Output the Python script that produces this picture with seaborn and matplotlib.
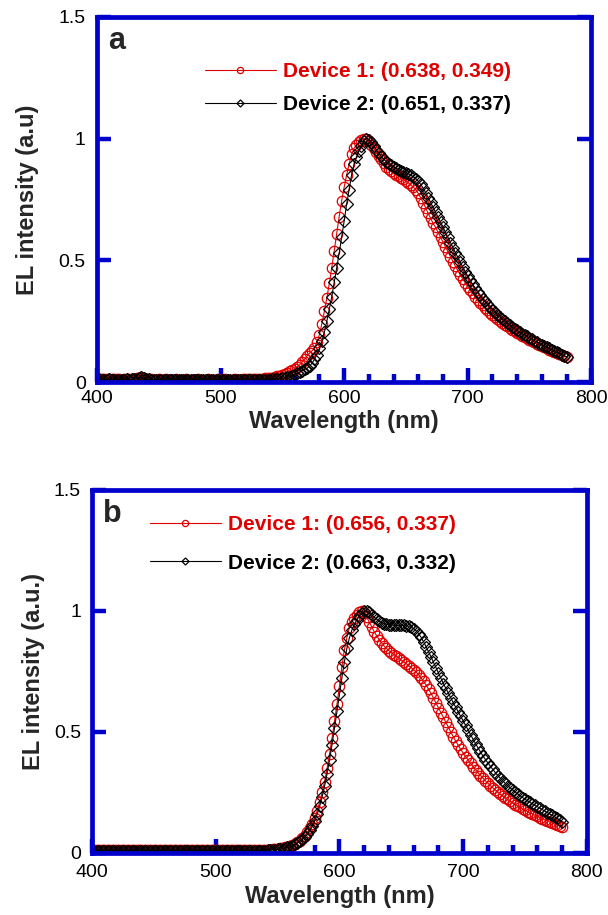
import numpy as np
import pandas as pd
import matplotlib
matplotlib.use("Agg")
import matplotlib.pyplot as plt
import seaborn as sns
from matplotlib.ticker import MultipleLocator, FixedLocator

# ---------------- data ----------------
wavelength = list(range(400, 782, 2))  # nm

a_dev1 = [
    0.012, 0.013, 0.012, 0.011, 0.012, 0.013, 0.012, 0.011, 0.012, 0.011,
    0.010, 0.011, 0.012, 0.011, 0.012, 0.013, 0.015, 0.018, 0.020, 0.017,
    0.014, 0.012, 0.011, 0.010, 0.010, 0.011, 0.010, 0.010, 0.011, 0.010,
    0.010, 0.010, 0.011, 0.010, 0.010, 0.010, 0.011, 0.010, 0.010, 0.010,
    0.010, 0.011, 0.010, 0.010, 0.010, 0.011, 0.010, 0.010, 0.010, 0.011,
    0.010, 0.010, 0.011, 0.010, 0.010, 0.010, 0.011, 0.010, 0.010, 0.011,
    0.011, 0.011, 0.012, 0.012, 0.012, 0.013, 0.013, 0.014, 0.015, 0.016,
    0.016, 0.018, 0.020, 0.023, 0.026, 0.030, 0.034, 0.039, 0.044, 0.049,
    0.055, 0.062, 0.071, 0.082, 0.094, 0.107, 0.118, 0.128, 0.140, 0.165,
    0.195, 0.240, 0.290, 0.345, 0.405, 0.470, 0.540, 0.610, 0.680, 0.745,
    0.800, 0.850, 0.895, 0.935, 0.960, 0.975, 0.985, 0.995, 1.000, 0.998,
    0.990, 0.975, 0.960, 0.945, 0.930, 0.915, 0.900, 0.885, 0.875, 0.865,
    0.858, 0.852, 0.845, 0.840, 0.833, 0.825, 0.818, 0.810, 0.800, 0.790,
    0.775, 0.757, 0.737, 0.715, 0.693, 0.672, 0.652, 0.635, 0.615, 0.595,
    0.575, 0.555, 0.535, 0.515, 0.495, 0.476, 0.457, 0.440, 0.423, 0.407,
    0.392, 0.378, 0.364, 0.351, 0.338, 0.326, 0.315, 0.305, 0.295, 0.285,
    0.276, 0.267, 0.259, 0.251, 0.243, 0.236, 0.229, 0.222, 0.215, 0.209,
    0.203, 0.197, 0.191, 0.185, 0.179, 0.174, 0.168, 0.163, 0.158, 0.153,
    0.148, 0.143, 0.138, 0.133, 0.128, 0.124, 0.119, 0.115, 0.111, 0.107,
    0.103,
]

a_dev2 = [
    0.010, 0.011, 0.010, 0.009, 0.010, 0.011, 0.010, 0.009, 0.010, 0.010,
    0.009, 0.010, 0.011, 0.010, 0.011, 0.012, 0.014, 0.017, 0.019, 0.016,
    0.013, 0.011, 0.010, 0.009, 0.009, 0.010, 0.009, 0.009, 0.010, 0.009,
    0.009, 0.009, 0.010, 0.009, 0.009, 0.009, 0.010, 0.009, 0.009, 0.009,
    0.009, 0.010, 0.009, 0.009, 0.009, 0.010, 0.009, 0.009, 0.009, 0.010,
    0.009, 0.009, 0.010, 0.009, 0.009, 0.009, 0.010, 0.009, 0.009, 0.010,
    0.009, 0.009, 0.010, 0.009, 0.009, 0.010, 0.009, 0.009, 0.010, 0.010,
    0.010, 0.011, 0.012, 0.013, 0.014, 0.015, 0.017, 0.019, 0.022, 0.026,
    0.030, 0.035, 0.041, 0.047, 0.052, 0.056, 0.065, 0.077, 0.093, 0.113,
    0.138, 0.168, 0.205, 0.250, 0.300, 0.350, 0.410, 0.470, 0.530, 0.595,
    0.660, 0.730, 0.790, 0.850, 0.895, 0.925, 0.950, 0.970, 0.990, 1.000,
    0.995, 0.985, 0.970, 0.955, 0.940, 0.928, 0.916, 0.906, 0.897, 0.890,
    0.884, 0.878, 0.873, 0.868, 0.864, 0.860, 0.855, 0.850, 0.843, 0.835,
    0.825, 0.812, 0.796, 0.778, 0.758, 0.738, 0.718, 0.698, 0.678, 0.657,
    0.636, 0.615, 0.594, 0.573, 0.552, 0.532, 0.512, 0.492, 0.473, 0.454,
    0.436, 0.418, 0.401, 0.385, 0.370, 0.356, 0.343, 0.331, 0.319, 0.308,
    0.297, 0.287, 0.277, 0.268, 0.259, 0.250, 0.242, 0.234, 0.226, 0.219,
    0.212, 0.205, 0.199, 0.193, 0.187, 0.182, 0.176, 0.170, 0.164, 0.158,
    0.153, 0.148, 0.143, 0.138, 0.133, 0.128, 0.123, 0.118, 0.113, 0.108,
    0.104,
]

b_dev1 = [
    0.011, 0.012, 0.011, 0.011, 0.012, 0.011, 0.011, 0.012, 0.011, 0.011,
    0.011, 0.012, 0.011, 0.011, 0.012, 0.011, 0.012, 0.012, 0.011, 0.011,
    0.012, 0.011, 0.011, 0.012, 0.011, 0.011, 0.012, 0.011, 0.011, 0.012,
    0.011, 0.011, 0.012, 0.011, 0.011, 0.012, 0.011, 0.011, 0.012, 0.011,
    0.011, 0.012, 0.011, 0.011, 0.012, 0.011, 0.011, 0.012, 0.011, 0.011,
    0.012, 0.011, 0.011, 0.012, 0.011, 0.011, 0.012, 0.011, 0.011, 0.012,
    0.011, 0.011, 0.012, 0.011, 0.012, 0.012, 0.011, 0.012, 0.012, 0.012,
    0.012, 0.013, 0.014, 0.015, 0.016, 0.017, 0.019, 0.021, 0.023, 0.026,
    0.029, 0.033, 0.038, 0.044, 0.051, 0.060, 0.071, 0.085, 0.102, 0.120,
    0.145, 0.175, 0.210, 0.250, 0.295, 0.350, 0.410, 0.475, 0.545, 0.615,
    0.690, 0.770, 0.840, 0.890, 0.930, 0.955, 0.972, 0.985, 0.995, 1.000,
    0.990, 0.975, 0.955, 0.935, 0.915, 0.898, 0.882, 0.868, 0.856, 0.845,
    0.836, 0.828, 0.820, 0.812, 0.804, 0.797, 0.790, 0.782, 0.774, 0.766,
    0.757, 0.747, 0.736, 0.723, 0.709, 0.694, 0.677, 0.659, 0.640, 0.620,
    0.600, 0.580, 0.560, 0.540, 0.520, 0.500, 0.480, 0.462, 0.445, 0.428,
    0.413, 0.398, 0.384, 0.370, 0.357, 0.344, 0.332, 0.320, 0.309, 0.298,
    0.288, 0.278, 0.269, 0.260, 0.251, 0.243, 0.235, 0.228, 0.221, 0.214,
    0.207, 0.200, 0.194, 0.188, 0.182, 0.176, 0.171, 0.166, 0.161, 0.156,
    0.151, 0.146, 0.142, 0.137, 0.133, 0.128, 0.124, 0.119, 0.115, 0.111,
    0.107,
]

b_dev2 = [
    0.009, 0.010, 0.009, 0.009, 0.010, 0.009, 0.009, 0.010, 0.009, 0.009,
    0.009, 0.010, 0.009, 0.009, 0.010, 0.009, 0.010, 0.010, 0.009, 0.009,
    0.010, 0.009, 0.009, 0.010, 0.009, 0.009, 0.010, 0.009, 0.009, 0.010,
    0.009, 0.009, 0.010, 0.009, 0.009, 0.010, 0.009, 0.009, 0.010, 0.009,
    0.009, 0.010, 0.009, 0.009, 0.010, 0.009, 0.009, 0.010, 0.009, 0.009,
    0.010, 0.009, 0.009, 0.010, 0.009, 0.009, 0.010, 0.009, 0.009, 0.010,
    0.009, 0.009, 0.010, 0.009, 0.010, 0.010, 0.009, 0.010, 0.010, 0.010,
    0.010, 0.011, 0.012, 0.013, 0.014, 0.015, 0.016, 0.018, 0.020, 0.023,
    0.026, 0.030, 0.035, 0.041, 0.048, 0.056, 0.066, 0.078, 0.093, 0.110,
    0.132, 0.160, 0.193, 0.232, 0.277, 0.328, 0.385, 0.448, 0.515, 0.585,
    0.655, 0.725, 0.790, 0.845, 0.888, 0.920, 0.945, 0.963, 0.978, 0.990,
    0.998, 1.000, 0.995, 0.985, 0.975, 0.966, 0.958, 0.952, 0.948, 0.945,
    0.943, 0.942, 0.941, 0.941, 0.941, 0.941, 0.940, 0.939, 0.937, 0.933,
    0.927, 0.918, 0.906, 0.891, 0.873, 0.853, 0.832, 0.810, 0.788, 0.766,
    0.744, 0.722, 0.700, 0.680, 0.660, 0.640, 0.621, 0.602, 0.583, 0.564,
    0.546, 0.527, 0.508, 0.489, 0.470, 0.452, 0.434, 0.417, 0.401, 0.386,
    0.372, 0.358, 0.345, 0.332, 0.320, 0.309, 0.298, 0.288, 0.278, 0.269,
    0.260, 0.252, 0.244, 0.236, 0.229, 0.222, 0.215, 0.209, 0.203, 0.197,
    0.191, 0.185, 0.179, 0.173, 0.167, 0.161, 0.155, 0.149, 0.143, 0.136,
    0.128,
]

labels_a = ["Device 1: (0.638, 0.349)", "Device 2: (0.651, 0.337)"]
labels_b = ["Device 1: (0.656, 0.337)", "Device 2: (0.663, 0.332)"]
ylabels = ["EL intensity (a.u)", "EL intensity (a.u.)"]
panel_letters = ["a", "b"]
xticks = [400, 500, 600, 700, 800]
yticks = [0, 0.5, 1, 1.5]
ytick_labels = ["0", "0.5", "1", "1.5"]

# ---------------- style ----------------
sns.set_style("white")
plt.rcParams["font.family"] = ["Liberation Sans", "DejaVu Sans"]

BLUE = "#0000CC"
RED = "#E00000"

fig = plt.figure(figsize=(6.08, 9.15), dpi=100)
ax_a = fig.add_axes([0.1595, 0.5825, 0.813, 0.399])
ax_b = fig.add_axes([0.1513, 0.0678, 0.814, 0.3967])

# (axes, series1, series2, legend labels, legend anchor, labelspacing,
#  x tick pad, y label pad, x label pad)
panels = [
    (ax_a, a_dev1, a_dev2, labels_a, (0.218, 0.877), 0.68, 6, 14, 2),
    (ax_b, b_dev1, b_dev2, labels_b, (0.117, 0.93), 0.92, 8, 6, 3),
]

for i, (ax, d1, d2, labs, legpos, lspace, xpad, ylpad, xlpad) in enumerate(panels):
    df = pd.DataFrame({"wl": wavelength, "d1": d1, "d2": d2})
    sns.lineplot(data=df, x="wl", y="d1", ax=ax, color=RED, linewidth=0.8,
                 marker="o", markersize=7.5, markerfacecolor="none",
                 markeredgecolor=RED, markeredgewidth=0.9, label=labs[0])
    sns.lineplot(data=df, x="wl", y="d2", ax=ax, color="black", linewidth=0.8,
                 marker="D", markersize=6.0, markerfacecolor="none",
                 markeredgecolor="black", markeredgewidth=0.9, label=labs[1])

    ax.set_xlim(400, 800)
    ax.set_ylim(0, 1.5)
    ax.xaxis.set_major_locator(FixedLocator(xticks))
    ax.xaxis.set_minor_locator(MultipleLocator(20))
    ax.set_yticks(yticks)
    ax.set_yticklabels(ytick_labels)

    for sp in ax.spines.values():
        sp.set_color(BLUE)
        sp.set_linewidth(3.4)
        sp.set_visible(True)

    ax.tick_params(axis="x", which="major", direction="in", length=10, width=3.2,
                   color=BLUE, bottom=True, top=False, labelsize=14, pad=xpad,
                   labelcolor="black")
    ax.tick_params(axis="x", which="minor", direction="in", length=5.5, width=3.2,
                   color=BLUE, bottom=True, top=False)
    ax.tick_params(axis="y", which="major", direction="in", length=10, width=3.2,
                   color=BLUE, left=True, right=True, labelsize=14, pad=8,
                   labelcolor="black")

    ax.set_xlabel("Wavelength (nm)", fontsize=17, fontweight="bold", labelpad=xlpad)
    ax.set_ylabel(ylabels[i], fontsize=17, fontweight="bold", labelpad=ylpad)

    ax.text(0.022, 0.975, panel_letters[i], transform=ax.transAxes,
            fontsize=22, fontweight="bold", va="top", ha="left")

    leg = ax.legend(loc="upper left", bbox_to_anchor=legpos, frameon=False,
                    prop={"weight": "bold", "size": 15}, handlelength=3.4,
                    handletextpad=0.35, labelspacing=lspace, borderpad=0,
                    borderaxespad=0, markerscale=0.6)
    texts = leg.get_texts()
    texts[0].set_color(RED)
    texts[1].set_color("black")

fig.savefig("out.png", dpi=100)
